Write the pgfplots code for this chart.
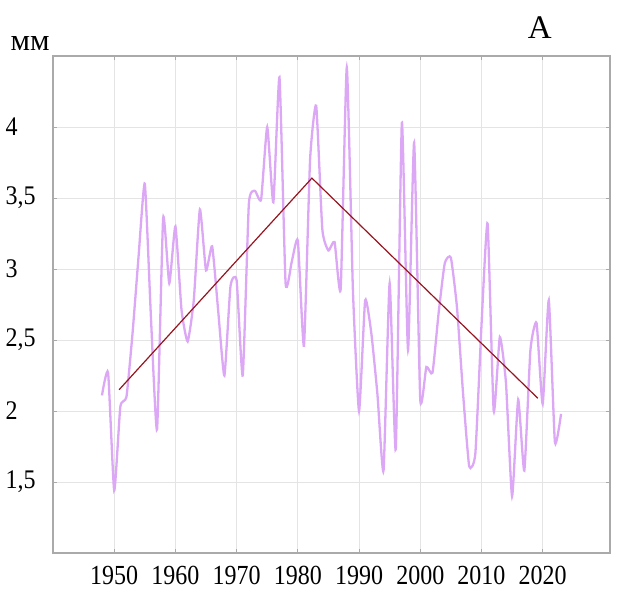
\documentclass[border=0pt]{standalone}
\usepackage{pgfplots}
\pgfplotsset{compat=1.18}
\usepackage{fontspec}
\setmainfont{Liberation Serif}
\definecolor{lilac}{RGB}{220,168,245}
\definecolor{trend}{RGB}{150,20,30}
\definecolor{gridc}{RGB}{228,228,228}
\definecolor{framec}{RGB}{170,170,170}
\begin{document}
\begin{tikzpicture}
\begin{axis}[
  scale only axis,
  width=557pt, height=497pt,
  xmin=1940, xmax=2031,
  ymin=1, ymax=4.5,
  xtick={1950,1960,...,2020},
  ytick={1.5,2,2.5,3,3.5,4},
  grid=major,
  major grid style={gridc, line width=0.8pt},
  axis line style={framec, line width=1.6pt},
  tick style={framec, line width=0.8pt},
  major tick length=4pt,
  /pgf/number format/assume math mode=true,
  /pgf/number format/use comma,
  /pgf/number format/1000 sep={},
  ticklabel style={font=\fontsize{24}{24}\selectfont},
  xticklabel={\scalebox{1}[1.15]{\pgfmathprintnumber{\tick}}},
  yticklabel={\scalebox{1}[1.12]{\pgfmathprintnumber{\tick}}},
  xticklabel style={yshift=-10pt},
  yticklabel style={anchor=west, xshift=-51pt},
  clip=false,
]
\addplot[lilac, line width=2.3pt, smooth, tension=0.3] coordinates {
(1948,2.11)(1949,2.27)(1950,1.44)(1951,2.03)(1952,2.10)(1953,2.55)(1954,3.10)
(1955,3.60)(1956,2.66)(1957,1.87)(1958,3.36)(1959,2.90)(1960,3.30)(1961,2.71)
(1962,2.49)(1963,2.78)(1964,3.42)(1965,2.99)(1966,3.16)(1967,2.70)(1968,2.25)
(1969,2.88)(1970,2.92)(1971,2.25)(1972,3.46)(1973,3.55)(1974,3.49)(1975,4.00)
(1976,3.47)(1977,4.35)(1978,2.90)(1979,3.05)(1980,3.20)(1981,2.46)(1982,3.77)
(1983,4.15)(1984,3.28)(1985,3.13)(1986,3.19)(1987,2.86)(1988,4.42)(1989,2.85)
(1990,2.00)(1991,2.78)(1992,2.55)(1993,2.12)(1994,1.58)(1995,2.90)(1996,1.73)
(1997,4.03)(1998,2.43)(1999,3.89)(2000,2.08)(2001,2.31)(2002,2.27)(2003,2.69)
(2004,3.04)(2005,3.08)(2006,2.73)(2007,2.12)(2008,1.61)(2009,1.70)(2010,2.60)
(2011,3.32)(2012,2.00)(2013,2.52)(2014,2.20)(2015,1.40)(2016,2.08)(2017,1.58)
(2018,2.43)(2019,2.62)(2020,2.05)(2021,2.78)(2022,1.78)(2023,1.98)
};
\addplot[trend, line width=1.2pt] coordinates {
(1950.8,2.15)(1982.3,3.64)(2019.2,2.09)
};
\node[font=\fontsize{20}{20}\selectfont] at (axis description cs:-0.041,1.026) {\resizebox{39pt}{14pt}{мм}};
\node[font=\fontsize{33}{33}\selectfont] at (axis description cs:0.874,1.058) {A};
\end{axis}
\useasboundingbox (-53pt,-39pt) rectangle (564pt,553pt);
\end{tikzpicture}
\end{document}
